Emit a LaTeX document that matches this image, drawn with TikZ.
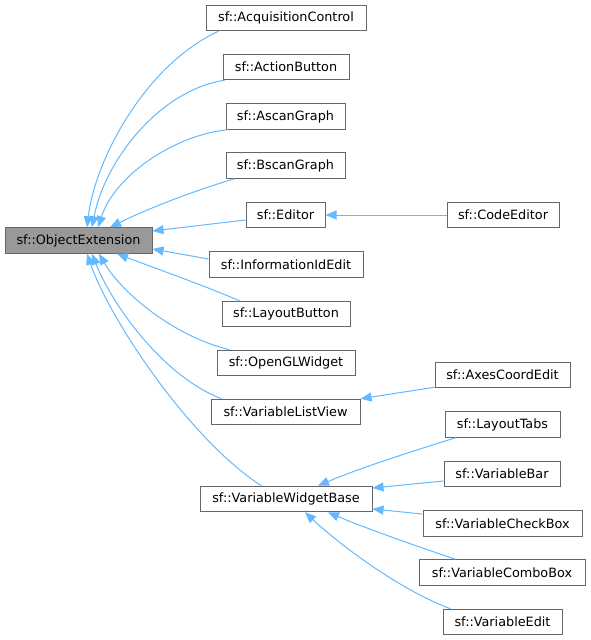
\documentclass[tikz,border=0pt]{standalone}
\usepackage{fontspec}
\setmainfont{DejaVu Sans}
\usetikzlibrary{arrows.meta}
\definecolor{nodeborder}{HTML}{666666}
\definecolor{basefill}{HTML}{999999}
\definecolor{edgeblue}{HTML}{63B8FF}
\begin{document}
\begin{tikzpicture}[x=1pt,y=-1pt,
  cls/.style={draw=nodeborder, line width=1pt, fill=white, minimum height=25.5pt, inner sep=0pt, font=\fontsize{12.8}{15}\selectfont, text=black},
  basecls/.style={cls, fill=basefill},
  edge/.style={draw=edgeblue, line width=1pt, -{Triangle[length=11pt,width=9pt]}}]
\useasboundingbox (0,0) rectangle (591,640);

\node[basecls, minimum width=147pt] (oe) at (78.5,240.5) {sf::ObjectExtension};
\node[cls, minimum width=160pt] (ac) at (286,18) {sf::AcquisitionControl};
\node[cls, minimum width=126pt] (ab) at (286,67) {sf::ActionButton};
\node[cls, minimum width=119pt] (ag) at (285.5,116.5) {sf::AscanGraph};
\node[cls, minimum width=119pt] (bg) at (285.5,165.5) {sf::BscanGraph};
\node[cls, minimum width=79pt] (ed) at (285.5,215) {sf::Editor};
\node[cls, minimum width=112pt] (ce) at (503,215) {sf::CodeEditor};
\node[cls, minimum width=154pt] (ii) at (286,264.5) {sf::InformationIdEdit};
\node[cls, minimum width=128pt] (lb) at (286,314) {sf::LayoutButton};
\node[cls, minimum width=138pt] (og) at (286,363) {sf::OpenGLWidget};
\node[cls, minimum width=149pt] (vl) at (285.5,412) {sf::VariableListView};
\node[cls, minimum width=135pt] (ax) at (502.5,375) {sf::AxesCoordEdit};
\node[cls, minimum width=172pt] (vw) at (286,499) {sf::VariableWidgetBase};
\node[cls, minimum width=115pt] (lt) at (502.5,424.5) {sf::LayoutTabs};
\node[cls, minimum width=116pt] (vb) at (502,474) {sf::VariableBar};
\node[cls, minimum width=159pt] (vc) at (502.5,523.5) {sf::VariableCheckBox};
\node[cls, minimum width=166pt] (vcb) at (502,572.5) {sf::VariableComboBox};
\node[cls, minimum width=119pt] (ve) at (502.5,622) {sf::VariableEdit};

% edges to ObjectExtension (top side)
\draw[edge] ([xshift=13pt]ac.south west) .. controls (145,65) and (95,160) .. ([xshift=8.5pt]oe.north);
\draw[edge] ([xshift=2pt]ab.south west) .. controls (160,90) and (105,160) .. ([xshift=13.5pt]oe.north);
\draw[edge] ([xshift=2pt]ag.south west) .. controls (175,135) and (115,175) .. ([xshift=19.5pt]oe.north);
\draw[edge] ([xshift=9pt]bg.south west) .. controls (190,192) and (145,210) .. ([xshift=31.5pt]oe.north);
\draw[edge] ([yshift=-5pt]ed.west) -- ([yshift=9.5pt]oe.east);
\draw[edge] ([yshift=5.5pt]ii.west) -- ([yshift=-8.5pt]oe.east);
% edges to ObjectExtension (bottom side)
\draw[edge] ([xshift=18pt]lb.north west) .. controls (200,284) and (160,270) .. ([xshift=38.5pt]oe.south);
\draw[edge] ([xshift=13pt]og.north west) .. controls (170,335) and (120,290) .. ([xshift=20.5pt]oe.south);
\draw[edge] ([xshift=11pt]vl.north west) .. controls (160,375) and (110,300) .. ([xshift=13.5pt]oe.south);
\draw[edge] ([xshift=62pt]vw.north west) .. controls (190,440) and (110,320) .. ([xshift=8.5pt]oe.south);
% Editor
\draw[edge] (ce.west) -- (ed.east);
% VariableListView
\draw[edge] ([yshift=1pt]ax.south west) -- (vl.north east);
% VariableWidgetBase
\draw[edge] ([xshift=11pt]lt.south west) .. controls (410,452) and (360,468) .. ([xshift=32pt]vw.north);
\draw[edge] ([yshift=-7pt]vb.west) -- ([yshift=11pt]vw.east);
\draw[edge] ([yshift=9.5pt]vc.west) -- ([yshift=-10pt]vw.east);
\draw[edge] ([xshift=37pt]vcb.north west) .. controls (410,544) and (360,526) .. ([xshift=42pt]vw.south);
\draw[edge] ([xshift=8pt]ve.north west) .. controls (400,590) and (340,545) .. ([xshift=19pt]vw.south);
\end{tikzpicture}
\end{document}
